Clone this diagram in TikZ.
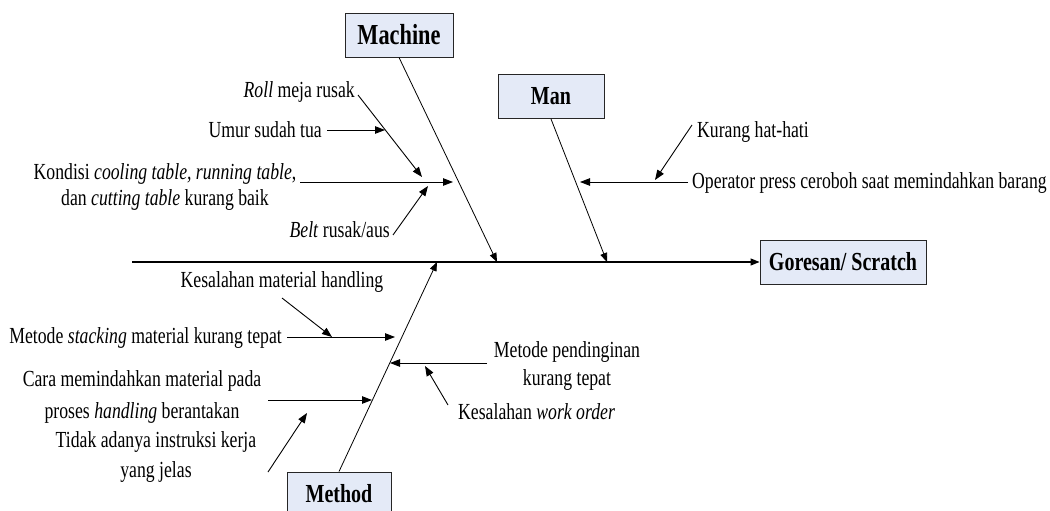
\documentclass[tikz,border=0pt]{standalone}
\usepackage{fontspec}
\setmainfont{Liberation Serif}[FakeStretch=0.77]
\usetikzlibrary{arrows.meta,calc}
\definecolor{boxfill}{HTML}{E4EAF7}
\tikzset{
  cat/.style={draw=black!85, line width=0.9pt, fill=boxfill, inner sep=0pt,
              minimum height=44pt, font=\fontsize{26}{30}\selectfont\bfseries},
  lbl/.style={inner sep=0pt, font=\fontsize{23}{26}\selectfont},
  bone/.style={line width=0.8pt, -{Triangle[length=9pt,width=7pt]}},
  twig/.style={line width=0.9pt, -{Triangle[length=10pt,width=7.5pt]}},
  spine/.style={line width=1.2pt, -{Triangle[length=9pt,width=7pt]}},
}
\begin{document}
\begin{tikzpicture}[x=1pt,y=-1pt]
\useasboundingbox (0,0) rectangle (1050,511);
\clip (0,0) rectangle (1050,511);

% category boxes and effect
\node[cat, minimum width=108pt, font=\fontsize{29}{32}\selectfont\bfseries] (machine) at (399,35) {Machine};
\node[cat, minimum width=106pt] (man) at (551,96.5) {Man};
\node[cat, minimum width=166pt] (effect) at (843,262) {Goresan/ Scratch};
\node[cat, minimum width=104pt] (method) at (339,494) {Method};

% cause labels
\node[lbl, anchor=base east] (roll) at (355,97) {\textit{Roll} meja rusak};
\node[lbl, anchor=base east] (umur) at (322,137) {Umur sudah tua};
\node[lbl, align=center] (kondisi) at (165,187.5)
  {Kondisi \textit{cooling table, running table},\\dan \textit{cutting table} kurang baik};
\node[lbl, anchor=base east] (belt) at (390,237) {\textit{Belt} rusak/aus};
\node[lbl, anchor=base west] (kurang) at (697,137) {Kurang hat-hati};
\node[lbl, anchor=base west] (operator) at (692,188) {Operator press ceroboh saat memindahkan barang};
\node[lbl, anchor=base] (kmh) at (282,287) {Kesalahan material handling};
\node[lbl, anchor=base east] (stacking) at (282,343) {Metode \textit{stacking} material kurang tepat};
\node[lbl, align=center, font=\fontsize{23}{28}\selectfont] (pendingin) at (567,366) {Metode pendinginan\\kurang tepat};
\node[lbl, anchor=base west] (workorder) at (458,419) {Kesalahan \textit{work order}};
\node[lbl, align=center, font=\fontsize{23}{32}\selectfont] (cara) at (142,397)
  {Cara memindahkan material pada\\proses \textit{handling} berantakan};
\node[lbl, align=center, font=\fontsize{23}{30}\selectfont] (tidak) at (156,456.5)
  {Tidak adanya instruksi kerja\\yang jelas};

% junction points
\coordinate (spineStart) at (132,262);
\coordinate (mTip) at (497,262);
\coordinate (nTip) at (607,262);
\coordinate (dTip) at (437,262);

\coordinate (k0) at (300,182);  \coordinate (k1) at (453,182);
\coordinate (r0) at (358,95);   \coordinate (r1) at (422,177);
\coordinate (u0) at (327,130);  \coordinate (u1) at (385,130);
\coordinate (b0) at (393,235);  \coordinate (b1) at (428,186);
\coordinate (o0) at (688,182);  \coordinate (o1) at (580,182);
\coordinate (h0) at (692,125);  \coordinate (h1) at (655,180);
\coordinate (m0) at (282,298);  \coordinate (m1) at (332,337);
\coordinate (s0) at (287,337);  \coordinate (s1) at (395,337);
\coordinate (p0) at (487,363);  \coordinate (p1) at (390,363);
\coordinate (w0) at (448,405);  \coordinate (w1) at (425,366);
\coordinate (c0) at (268,400);  \coordinate (c1) at (372,400);
\coordinate (t0) at (268,472);  \coordinate (t1) at (307,413);

% spine and main bones
\draw[spine] (spineStart) -- (effect.west);
\draw[bone] (machine.south) -- (mTip);
\draw[bone] (man.south) -- (nTip);
\draw[bone] (method.north) -- (dTip);

% machine causes
\draw[twig] (k0) -- (k1);
\draw[twig] (r0) -- (r1);
\draw[twig] (u0) -- (u1);
\draw[twig] (b0) -- (b1);

% man causes
\draw[twig] (o0) -- (o1);
\draw[twig] (h0) -- (h1);

% method causes
\draw[twig] (m0) -- (m1);
\draw[twig] (s0) -- (s1);
\draw[twig] (p0) -- (p1);
\draw[twig] (w0) -- (w1);
\draw[twig] (c0) -- (c1);
\draw[twig] (t0) -- (t1);
\end{tikzpicture}
\end{document}
